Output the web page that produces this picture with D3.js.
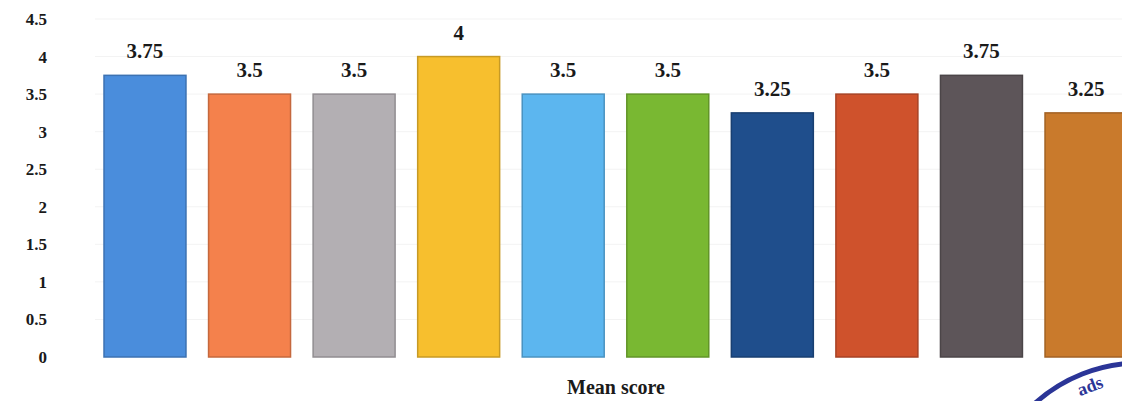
<!DOCTYPE html>
<html>
<head>
<meta charset="utf-8">
<script src="https://cdn.jsdelivr.net/npm/d3@7"></script>
<style>
  body { margin: 0; background: #fff; }
  text { font-family: "Liberation Serif", "DejaVu Serif", serif; font-weight: bold; fill: #1a1a1a; }
</style>
</head>
<body>
<svg width="1122" height="401"></svg>
<script>
// categories are unlabelled in the picture, only the value shows
var items = ["a", "b", "c", "d", "e", "f", "g", "h", "i", "j"];
var scores = [3.75, 3.5, 3.5, 4, 3.5, 3.5, 3.25, 3.5, 3.75, 3.25];
var barColors = ["#4a8ddc", "#f4814c", "#b3afb3", "#f7bf2e", "#5cb6ef", "#79b832",
                 "#1f4e8c", "#cf522c", "#5d5559", "#c97a2c"];
var ticks = [0, 0.5, 1, 1.5, 2, 2.5, 3, 3.5, 4, 4.5];

var svg = d3.select("svg");

var y = d3.scaleLinear()
    .domain([0, 4.5])
    .range([357, 19]);

var x = d3.scaleBand()
    .domain(items)
    .range([104, 1127])
    .paddingInner(0.216)
    .paddingOuter(0);

// faint gridlines, mostly washed out in the print
svg.append("g")
    .selectAll("line")
    .data(ticks.slice(1))
    .enter()
    .append("line")
    .attr("x1", 95).attr("x2", 1122)
    .attr("y1", function(d) { return y(d); })
    .attr("y2", function(d) { return y(d); })
    .attr("stroke", "#f3f3f3")
    .attr("stroke-width", 1);

// y axis labels
svg.append("g")
    .attr("transform", "translate(47,0)")
    .call(d3.axisLeft(y).tickValues(ticks).tickSize(0).tickPadding(0)
        .tickFormat(function(d) { return d; }))
    .call(function(g) { g.select(".domain").remove(); })
    .selectAll("text")
    .attr("font-size", 17)
    .attr("font-family", "Liberation Serif, serif")
    .attr("font-weight", "bold")
    .attr("fill", "#1a1a1a");

// bars
svg.append("g")
    .selectAll("rect")
    .data(scores)
    .enter()
    .append("rect")
    .attr("x", function(d, i) { return x(items[i]); })
    .attr("y", function(d) { return y(d); })
    .attr("width", x.bandwidth())
    .attr("height", function(d) { return y(0) - y(d); })
    .attr("fill", function(d, i) { return barColors[i]; })
    .attr("stroke", function(d, i) { return d3.color(barColors[i]).darker(0.6); })
    .attr("stroke-width", 1.5);

// value labels
svg.append("g")
    .selectAll("text")
    .data(scores)
    .enter()
    .append("text")
    .attr("x", function(d, i) { return x(items[i]) + x.bandwidth() / 2; })
    .attr("y", function(d) { return y(d) - 17; })
    .attr("text-anchor", "middle")
    .attr("font-size", 21)
    .text(function(d) { return d; });

// axis title
svg.append("text")
    .attr("x", 616)
    .attr("y", 394)
    .attr("text-anchor", "middle")
    .attr("font-size", 20)
    .text("Mean score");

// corner of a blue stamp on the page
var stamp = svg.append("g").attr("transform", "translate(1140,520)");
stamp.append("circle")
    .attr("r", 157)
    .attr("fill", "none")
    .attr("stroke", "#2b3597")
    .attr("stroke-width", 5);
svg.append("text")
    .attr("x", 1090)
    .attr("y", 392)
    .attr("text-anchor", "middle")
    .attr("transform", "rotate(-21,1090,386)")
    .attr("font-family", "DejaVu Sans, sans-serif")
    .attr("font-size", 18)
    .style("fill", "#2b3597")
    .text("ads");
</script>
</body>
</html>
